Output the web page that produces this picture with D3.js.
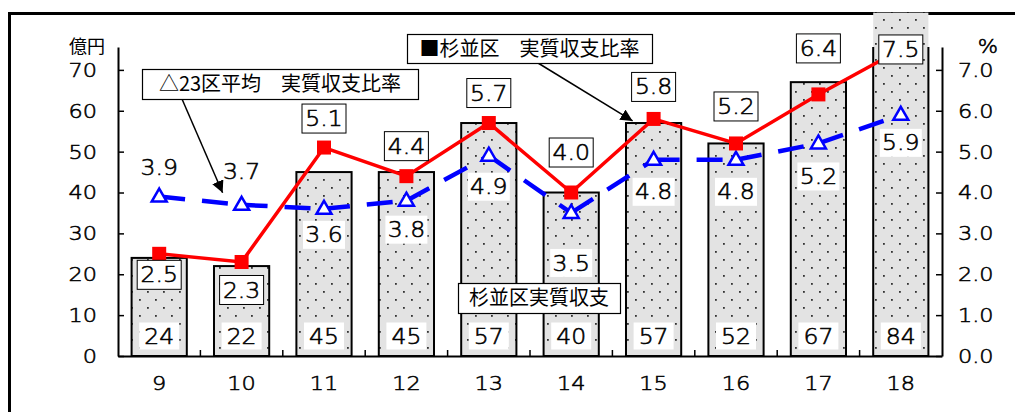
<!DOCTYPE html>
<html>
<head>
<meta charset="utf-8">
<script src="https://cdn.jsdelivr.net/npm/d3@7/dist/d3.min.js"></script>
<style>
  html, body { margin: 0; padding: 0; background: #fff; }
  svg { display: block; }
  text { font-family: "DejaVu Sans", "Noto Sans CJK JP", sans-serif; font-weight: 200; fill: #000; }
  text.num { stroke: #000; stroke-width: 0.55px; }
  .cjk { font-family: "Noto Sans CJK JP", sans-serif; font-weight: 400; }
</style>
</head>
<body>
<svg id="chart" width="1015" height="412"></svg>
<script>
// Fiscal years (Heisei)
const years = ["9", "10", "11", "12", "13", "14", "15", "16", "17", "18"];
// 杉並区 実質収支 (億円)
const balance = [24, 22, 45, 45, 57, 40, 57, 52, 67, 84];
// 杉並区 実質収支比率 (%)
const suginamiRate = [2.5, 2.3, 5.1, 4.4, 5.7, 4.0, 5.8, 5.2, 6.4, 7.5];
// 23区平均 実質収支比率 (%)
const wardAvgRate = [3.9, 3.7, 3.6, 3.8, 4.9, 3.5, 4.8, 4.8, 5.2, 5.9];
// Axis ticks
const leftTicks = [0, 10, 20, 30, 40, 50, 60, 70];
const rightTicks = [0, 1, 2, 3, 4, 5, 6, 7];

// Label placement (vertical offset from the marker, px)
const rateLabelDy = [21, 28, -29, -30, -30, -40, -32, -37, -46, 0];
const avgLabelDy = [-29, -33, 26, 29, 31, 50, 32, 32, 33, 28];

const svg = d3.select("#chart");
const pLeft = 118, pRight = 942, pBottom = 356, pTop = 47;

const x = d3.scaleBand().domain(years).range([pLeft, pRight])
  .paddingInner(0.33).paddingOuter(0.165);
const y = d3.scaleLinear().domain([0, 75.6]).range([pBottom, pTop]);
const yR = d3.scaleLinear().domain([0, 7.56]).range([pBottom, pTop]);
const cx = d => x(d) + x.bandwidth() / 2;
const fmt1 = d3.format(".1f");

const defs = svg.append("defs");
const pat = defs.append("pattern").attr("id", "dots")
  .attr("patternUnits", "userSpaceOnUse").attr("width", 16).attr("height", 16);
pat.append("rect").attr("width", 16).attr("height", 16).attr("fill", "#e3e3e3");
pat.append("rect").attr("x", 3).attr("y", 3).attr("width", 1.8).attr("height", 1.8).attr("fill", "#333");
pat.append("rect").attr("x", 11).attr("y", 11).attr("width", 1.8).attr("height", 1.8).attr("fill", "#333");

defs.append("clipPath").attr("id", "plotClip").append("rect")
  .attr("x", 0).attr("y", pTop).attr("width", 1015).attr("height", 412 - pTop);

defs.append("marker").attr("id", "arrow")
  .attr("viewBox", "0 0 10 10").attr("refX", 10).attr("refY", 5)
  .attr("markerWidth", 12).attr("markerHeight", 12).attr("markerUnits", "userSpaceOnUse")
  .attr("orient", "auto")
  .append("path").attr("d", "M0,0L10,5L0,10Z").attr("fill", "#000");

// Outer frame
svg.append("rect").attr("x", 9.5).attr("y", 13.5).attr("width", 1100).attr("height", 500)
  .attr("fill", "none").attr("stroke", "#000").attr("stroke-width", 3);

// Bars: fill then outline (outline kept inside the plot area)
const bars = years.map((d, i) => ({ year: d, v: balance[i] }));
svg.append("g").selectAll("rect").data(bars).join("rect")
  .attr("x", d => x(d.year)).attr("width", x.bandwidth())
  .attr("y", d => y(d.v)).attr("height", d => y(0) - y(d.v))
  .attr("fill", "url(#dots)");
svg.append("g").attr("clip-path", "url(#plotClip)").selectAll("rect").data(bars).join("rect")
  .attr("x", d => x(d.year)).attr("width", x.bandwidth())
  .attr("y", d => y(d.v)).attr("height", d => y(0) - y(d.v))
  .attr("fill", "none").attr("stroke", "#000").attr("stroke-width", 2);

// Bar value labels
const barLab = svg.append("g").selectAll("g").data(bars).join("g")
  .attr("transform", d => `translate(${cx(d.year)},${y(0) - 20})`);
barLab.append("rect").attr("x", -20).attr("y", -13.5).attr("width", 40).attr("height", 27).attr("fill", "#fff");
barLab.append("text").attr("class", "num").attr("text-anchor", "middle").attr("dy", "0.36em")
  .attr("font-size", 21).text(d => d.v);

// Axes
const axL = svg.append("g").attr("transform", `translate(${pLeft},0)`)
  .call(d3.axisLeft(y).tickValues(leftTicks).tickSizeInner(-6).tickSizeOuter(0).tickPadding(21));
const axR = svg.append("g").attr("transform", `translate(${pRight},0)`)
  .call(d3.axisRight(yR).tickValues(rightTicks).tickSizeInner(-6).tickSizeOuter(0).tickPadding(16)
    .tickFormat(fmt1));
const axB = svg.append("g").attr("transform", `translate(0,${pBottom})`)
  .call(d3.axisBottom(x).tickSize(0).tickPadding(20));
[axL, axR, axB].forEach(g => {
  g.selectAll("path.domain").attr("stroke", "#000").attr("stroke-width", 2);
  g.selectAll(".tick line").attr("stroke", "#000").attr("stroke-width", 1.5);
  g.selectAll("text").attr("class", "num").attr("font-size", 20).attr("fill", "#000");
  g.attr("font-family", null);
});
// Category boundary ticks on the bottom axis
const step = x.step();
const bounds = years.slice(1).map(d => x(d) - (step - x.bandwidth()) / 2);
svg.append("g").selectAll("line").data(bounds).join("line")
  .attr("x1", d => d).attr("x2", d => d).attr("y1", pBottom).attr("y2", pBottom - 6)
  .attr("stroke", "#000").attr("stroke-width", 1.5);

// Unit labels
svg.append("text").attr("class", "cjk").attr("x", 87).attr("y", 47).attr("dy", "0.36em")
  .attr("text-anchor", "middle").attr("font-size", 18).text("億円");
svg.append("text").attr("class", "num").attr("x", 988).attr("y", 46).attr("dy", "0.36em")
  .attr("text-anchor", "middle").attr("font-size", 19).text("%");

// 23区平均 line: dashed segments restarting at each point
const avgPts = years.map((d, i) => [cx(d), yR(wardAvgRate[i])]);
svg.append("g").selectAll("line").data(d3.pairs(avgPts)).join("line")
  .attr("x1", d => d[0][0]).attr("y1", d => d[0][1])
  .attr("x2", d => d[1][0]).attr("y2", d => d[1][1])
  .attr("stroke", "#0000ff").attr("stroke-width", 4.5).attr("stroke-dasharray", "26 17");
svg.append("g").selectAll("path").data(avgPts).join("path")
  .attr("d", d => `M${d[0]},${d[1] - 8}L${d[0] + 7.5},${d[1] + 5}L${d[0] - 7.5},${d[1] + 5}Z`)
  .attr("fill", "#fff").attr("stroke", "#0000ff").attr("stroke-width", 2.5);

// 杉並区 line
const line = d3.line().x(d => d[0]).y(d => d[1]);
const ratePts = years.map((d, i) => [cx(d), yR(suginamiRate[i])]);
svg.append("path").attr("d", line(ratePts)).attr("fill", "none")
  .attr("stroke", "#ff0000").attr("stroke-width", 3.5);
svg.append("g").selectAll("rect").data(ratePts).join("rect")
  .attr("x", d => d[0] - 7).attr("y", d => d[1] - 7).attr("width", 14).attr("height", 14)
  .attr("fill", "#ff0000");

// 23区平均 value labels
const avgLab = svg.append("g").selectAll("g").data(years).join("g")
  .attr("transform", (d, i) => `translate(${cx(d)},${yR(wardAvgRate[i]) + avgLabelDy[i]})`);
avgLab.append("rect").attr("x", -21).attr("y", -14).attr("width", 42).attr("height", 28).attr("fill", "#fff");
avgLab.append("text").attr("class", "num").attr("text-anchor", "middle").attr("dy", "0.36em").attr("font-size", 21)
  .text((d, i) => fmt1(wardAvgRate[i]));

// 杉並区 value labels
const rateLab = svg.append("g").selectAll("g").data(years).join("g")
  .attr("transform", (d, i) => `translate(${cx(d)},${yR(suginamiRate[i]) + rateLabelDy[i]})`);
rateLab.append("rect").attr("x", -22).attr("y", -14.5).attr("width", 44).attr("height", 29)
  .attr("fill", "#fff").attr("stroke", "#000").attr("stroke-width", 1);
rateLab.append("text").attr("class", "num").attr("text-anchor", "middle").attr("dy", "0.36em").attr("font-size", 21)
  .text((d, i) => fmt1(suginamiRate[i]));

// Callout boxes
function callout(x0, y0, w, h, label) {
  svg.append("rect").attr("x", x0 + 0.5).attr("y", y0 + 0.5).attr("width", w).attr("height", h)
    .attr("fill", "#fff").attr("stroke", "#000").attr("stroke-width", 1.2);
  svg.append("text").attr("class", "cjk").attr("x", x0 + w / 2).attr("y", y0 + h / 2)
    .attr("dy", "0.36em").attr("text-anchor", "middle").attr("font-size", 20).text(label);
}
const avgIdx = 1, rateIdx = 6;
svg.append("line").attr("x1", 182).attr("y1", 99)
  .attr("x2", cx(years[avgIdx]) - 19).attr("y2", yR(wardAvgRate[avgIdx]) - 12)
  .attr("stroke", "#000").attr("stroke-width", 1.5).attr("marker-end", "url(#arrow)");
svg.append("line").attr("x1", 538).attr("y1", 63)
  .attr("x2", cx(years[rateIdx]) - 21).attr("y2", yR(suginamiRate[rateIdx]) + 2)
  .attr("stroke", "#000").attr("stroke-width", 1.5).attr("marker-end", "url(#arrow)");
callout(142, 69, 276, 30, "△23区平均　実質収支比率");
callout(407, 34, 245, 29, "■杉並区　実質収支比率");
callout(458, 283, 162, 30, "杉並区実質収支");

// Widen the numerals slightly (rounded gothic look)
svg.selectAll("text.num").each(function () {
  const len = this.getComputedTextLength();
  d3.select(this).attr("textLength", len * 1.12).attr("lengthAdjust", "spacingAndGlyphs");
});
</script>
</body>
</html>
